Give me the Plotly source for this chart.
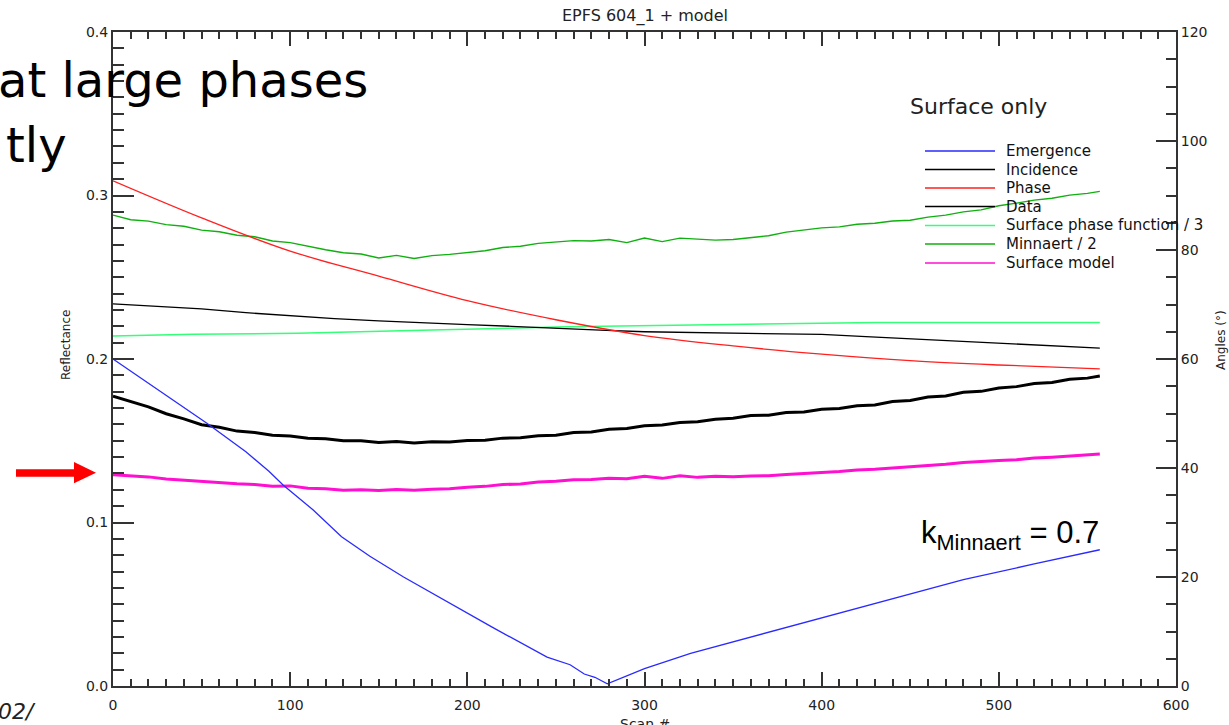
import plotly.graph_objects as go

# ---------------- data ----------------
scan10 = [0, 10, 20, 30, 40, 50, 60, 70, 80, 90, 100, 110, 120, 130, 140, 150, 160, 170, 180, 190,
          200, 210, 220, 230, 240, 250, 260, 270, 280, 290, 300, 310, 320, 330, 340, 350, 360, 370,
          380, 390, 400, 410, 420, 430, 440, 450, 460, 470, 480, 490, 500, 510, 520, 530, 540, 550, 557]

data_refl = [.1772, .1738, .1707, .1665, .1634, .1598, .1582, .1559, .1550, .1534, .1529, .1515, .1512,
             .1500, .1500, .1490, .1495, .1487, .1494, .1492, .1502, .1503, .1516, .1518, .1531, .1534,
             .1550, .1553, .1570, .1575, .1592, .1596, .1612, .1616, .1632, .1637, .1654, .1656, .1673,
             .1676, .1692, .1697, .1714, .1719, .1740, .1746, .1767, .1774, .1796, .1802, .1823, .1831,
             .1850, .1856, .1876, .1883, .1896]

surface_model = [.1292, .1284, .1279, .1266, .1259, .1249, .1245, .1237, .1233, .1222, .1224, .1210, .1207,
                 .1198, .1201, .1196, .1202, .1197, .1204, .1206, .1215, .1221, .1232, .1236, .1248, .1252,
                 .1262, .1263, .1271, .1268, .1283, .1270, .1286, .1276, .1283, .1280, .1285, .1286, .1294,
                 .1299, .1307, .1312, .1321, .1325, .1334, .1340, .1350, .1356, .1367, .1371, .1379, .1384,
                 .1394, .1399, .1408, .1413, .1419]

minnaert_half = [.2880, .2852, .2843, .2822, .2812, .2788, .2778, .2757, .2748, .2722, .2712, .2688, .2668,
                 .2650, .2642, .2618, .2634, .2615, .2632, .2640, .2652, .2662, .2682, .2690, .2707, .2714,
                 .2724, .2722, .2731, .2712, .2740, .2718, .2739, .2733, .2727, .2731, .2741, .2754, .2776,
                 .2788, .2802, .2808, .2824, .2830, .2844, .2849, .2868, .2880, .2900, .2912, .2937, .2953,
                 .2972, .2983, .3002, .3013, .3025]

spf_scan = [0, 45, 104, 142, 180, 256, 301, 356, 431, 557]
spf_third = [.2141, .2151, .2157, .2169, .2177, .2197, .2203, .2214, .2224, .2224]

inc_scan = [0, 25, 50, 75, 100, 125, 150, 175, 200, 225, 250, 275, 300, 325, 350, 375, 400, 425, 450,
            475, 500, 525, 557]
incidence = [70.1, 69.7, 69.2, 68.5, 67.9, 67.4, 67.0, 66.6, 66.3, 66.0, 65.6, 65.3, 65.0, 64.9, 64.8,
             64.7, 64.5, 64.1, 63.7, 63.3, 62.9, 62.4, 62.0]

phase_scan = [0, 50, 100, 150, 200, 250, 300, 350, 400, 450, 500, 557]
phase = [92.7, 85.9, 79.8, 75.2, 70.7, 67.2, 64.3, 62.4, 60.9, 59.7, 58.9, 58.2]

em_scan = [0, 25, 53, 75, 88, 96, 113, 129, 145, 164, 190, 214, 245, 258, 266, 272, 279, 300, 326,
           365, 403, 440, 480, 520, 557]
emergence = [60.0, 54.5, 48.2, 43.0, 39.4, 36.9, 32.3, 27.4, 23.8, 20.0, 15.2, 10.8, 5.3, 3.9, 2.2,
             1.6, 0.4, 3.2, 6.0, 9.4, 12.7, 15.9, 19.5, 22.4, 25.0]

legend_labels = ["Emergence", "Incidence", "Phase", "Data", "Surface phase function / 3",
                 "Minnaert / 2", "Surface model"]
colors = ["#2a2aff", "#000000", "#ff2020", "#000000", "#33ff77", "#10b010", "#ff10d0"]

# ---------------- layout helpers (pixel -> paper) ----------------
L, R, T, B = 113, 53, 32, 39
W, H = 1229, 725
PW, PH = W - L - R, H - T - B


def px(x):
    return (x - L) / PW


def py(y):
    return (H - B - y) / PH


fig = go.Figure()
fig.add_trace(go.Scatter(x=em_scan, y=emergence, yaxis="y2", mode="lines",
                         line=dict(color=colors[0], width=1.3), name=legend_labels[0]))
fig.add_trace(go.Scatter(x=inc_scan, y=incidence, yaxis="y2", mode="lines",
                         line=dict(color=colors[1], width=1.3), name=legend_labels[1]))
fig.add_trace(go.Scatter(x=phase_scan, y=phase, yaxis="y2", mode="lines", line_shape="spline",
                         line=dict(color=colors[2], width=1.3), name=legend_labels[2]))
fig.add_trace(go.Scatter(x=scan10, y=data_refl, mode="lines",
                         line=dict(color=colors[3], width=3), name=legend_labels[3]))
fig.add_trace(go.Scatter(x=spf_scan, y=spf_third, mode="lines",
                         line=dict(color=colors[4], width=1.5), name=legend_labels[4]))
fig.add_trace(go.Scatter(x=scan10, y=minnaert_half, mode="lines",
                         line=dict(color=colors[5], width=1.4), name=legend_labels[5]))
fig.add_trace(go.Scatter(x=scan10, y=surface_model, mode="lines",
                         line=dict(color=colors[6], width=3), name=legend_labels[6]))

axis_font = dict(family="DejaVu Sans", size=14, color="#222")
line_col = "#333"

fig.update_layout(
    width=W, height=H,
    margin=dict(l=L, r=R, t=T, b=B),
    paper_bgcolor="white", plot_bgcolor="white",
    showlegend=False,
    xaxis=dict(range=[0, 600], dtick=100, showgrid=False, zeroline=False,
               showline=True, linecolor=line_col, linewidth=2, mirror="ticks",
               ticks="inside", ticklen=14, tickwidth=1.5, tickcolor=line_col,
               minor=dict(dtick=10, ticks="inside", ticklen=7, tickwidth=1.5, tickcolor=line_col),
               tickfont=axis_font, ticklabelstandoff=5),
    yaxis=dict(range=[0, 0.4], dtick=0.1, tickformat=".1f", showgrid=False, zeroline=False,
               showline=True, linecolor=line_col, linewidth=2,
               ticks="inside", ticklen=21, tickwidth=1.5, tickcolor=line_col,
               minor=dict(dtick=0.01, ticks="inside", ticklen=11, tickwidth=1.5, tickcolor=line_col),
               tickfont=axis_font),
    yaxis2=dict(range=[0, 120], dtick=20, overlaying="y", side="right", showgrid=False,
                zeroline=False, showline=True, linecolor=line_col, linewidth=2,
                ticks="inside", ticklen=20, tickwidth=1.5, tickcolor=line_col,
                minor=dict(dtick=5, ticks="inside", ticklen=10, tickwidth=1.5, tickcolor=line_col),
                tickfont=axis_font),
)

ann = []


def text(t, x, y, size, xanchor="center", angle=0, family="DejaVu Sans", color="#222", style="normal"):
    ann.append(dict(text=t, x=px(x), y=py(y), xref="paper", yref="paper", xanchor=xanchor,
                    yanchor="middle", textangle=angle, showarrow=False,
                    font=dict(family=family, size=size, color=color, style=style)))


# title and axis titles
text("EPFS 604_1 + model", 645, 16, 16)
text("Reflectance", 66, 345, 12, angle=-90)
text("Angles (°)", 1221, 340, 12, angle=-90)
text("Scan #", 645, 724, 14)

# legend header and entries
text("Surface only", 908, 107, 22, xanchor="left")
rows = [151, 169.5, 188, 206.5, 225.5, 244, 263]
shapes = []
for lab, col, ry in zip(legend_labels, colors, rows):
    shapes.append(dict(type="line", xref="paper", yref="paper", x0=px(925), x1=px(995),
                       y0=py(ry), y1=py(ry), line=dict(color=col, width=1.5)))
    text(lab, 1004, ry, 15, xanchor="left", color="#111")

# overlay slide texts
text("at large phases", 370, 80, 48, xanchor="right", color="#000")
text("tly", 69, 145, 48, xanchor="right", color="#000")
text("02/", 38, 712, 22, xanchor="right", style="italic")
text("k<sub>Minnaert</sub> = 0.7", 1101, 535, 31, xanchor="right", family="Liberation Sans", color="#000")

# red arrow
pts = [(16, 469.3), (74, 469.3), (74, 462), (96, 472.7), (74, 483.3), (74, 476.7), (16, 476.7)]
path = "M " + " L ".join(f"{px(a):.5f},{py(b):.5f}" for a, b in pts) + " Z"
shapes.append(dict(type="path", xref="paper", yref="paper", path=path,
                   fillcolor="#ff0000", line=dict(color="#ff0000", width=0)))

fig.update_layout(annotations=ann, shapes=shapes)
fig.write_html("out.html")
